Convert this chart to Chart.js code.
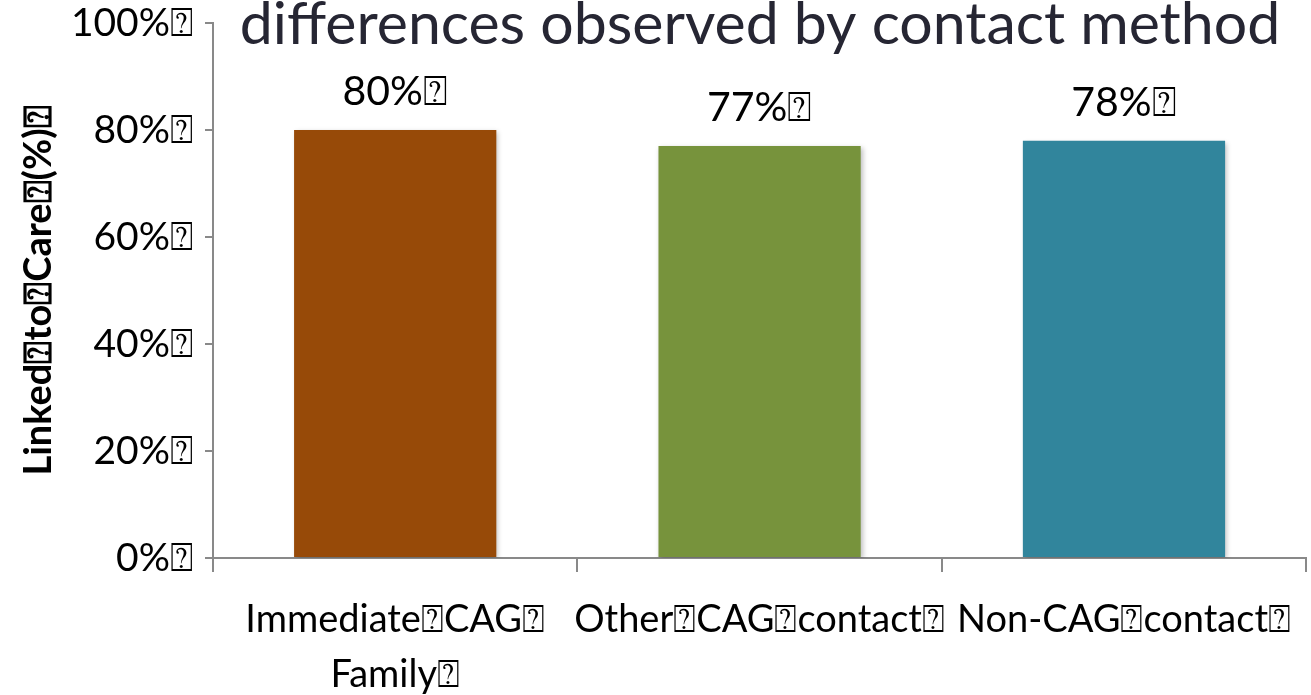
<!DOCTYPE html>
<html>
<head>
<meta charset="utf-8">
<script src="https://cdn.jsdelivr.net/npm/chart.js@4.4.1/dist/chart.umd.min.js"></script>
<style>
  html, body { margin: 0; padding: 0; background: #fff; }
  .chart-container { position: relative; width: 1311px; height: 695px; }
</style>
</head>
<body>
<div class="chart-container">
  <canvas id="contact" width="1311" height="695"></canvas>
</div>
<script>
const BOX = '\u2370';

const titleText = 'differences observed by contact method';
const categories = [
  ['Immediate' + BOX + 'CAG' + BOX, 'Family' + BOX],
  'Other' + BOX + 'CAG' + BOX + 'contact' + BOX,
  'Non-CAG' + BOX + 'contact' + BOX
];
const linkedToCare = [80, 77, 78];
const barColors = ['#974A08', '#77933C', '#31859C'];
const yTicks = [0, 20, 40, 60, 80, 100];
const yTitle = 'Linked' + BOX + 'to' + BOX + 'Care' + BOX + '(%)' + BOX;

const fontFamily = 'Lato, "Open Sans", sans-serif';
const axisGray = '#898989';

const headerPlugin = {
  id: 'header',
  afterDraw(chart) {
    const ctx = chart.ctx;
    ctx.save();
    ctx.font = '59px ' + fontFamily;
    ctx.fillStyle = '#262633';
    ctx.textAlign = 'center';
    ctx.textBaseline = 'alphabetic';
    ctx.fillText(titleText, 760, 44);
    ctx.restore();
  }
};

const valueLabels = {
  id: 'valueLabels',
  afterDatasetsDraw(chart) {
    const ctx = chart.ctx;
    const meta = chart.getDatasetMeta(0);
    ctx.save();
    ctx.font = '41px ' + fontFamily;
    ctx.fillStyle = '#000';
    ctx.textAlign = 'center';
    ctx.textBaseline = 'middle';
    meta.data.forEach((bar, i) => {
      ctx.fillText(linkedToCare[i] + '%' + BOX, bar.x, bar.y - 38);
    });
    ctx.restore();
  }
};

const barShadow = {
  id: 'barShadow',
  beforeDatasetDraw(chart) {
    const ctx = chart.ctx;
    ctx.save();
    ctx.shadowColor = 'rgba(0,0,0,0.25)';
    ctx.shadowBlur = 5;
    ctx.shadowOffsetX = 2;
    ctx.shadowOffsetY = 2;
  },
  afterDatasetDraw(chart) {
    chart.ctx.restore();
  }
};

new Chart(document.getElementById('contact').getContext('2d'), {
  type: 'bar',
  data: {
    labels: categories,
    datasets: [{
      data: linkedToCare,
      backgroundColor: barColors,
      borderWidth: 0,
      barPercentage: 0.555,
      categoryPercentage: 1
    }]
  },
  options: {
    responsive: false,
    animation: false,
    devicePixelRatio: 1,
    layout: { padding: { top: 23, right: -2, left: 0, bottom: 0 } },
    plugins: {
      legend: { display: false },
      tooltip: { enabled: false }
    },
    scales: {
      y: {
        min: 0,
        max: 100,
        afterBuildTicks(scale) {
          scale.ticks = yTicks.map(v => ({ value: v }));
        },
        afterFit(scale) {
          scale.width = 213;
          scale.paddingTop = 0;
          scale.paddingBottom = 0;
        },
        ticks: {
          callback: v => v + '%' + BOX,
          color: '#000',
          padding: 12,
          font: { family: fontFamily, size: 39 }
        },
        grid: {
          drawOnChartArea: false,
          drawTicks: true,
          tickLength: 8,
          color: axisGray,
          lineWidth: 2
        },
        border: { color: axisGray, width: 2 },
        title: {
          display: true,
          text: yTitle,
          color: '#000',
          padding: { top: 16, bottom: 0 },
          font: { family: fontFamily, size: 38, weight: 'bold' }
        }
      },
      x: {
        afterFit(scale) { scale.height = 695 - 558; },
        ticks: {
          color: '#000',
          padding: 20,
          maxRotation: 0,
          autoSkip: false,
          font: { family: fontFamily, size: 38, lineHeight: 1.45 }
        },
        grid: {
          offset: true,
          drawOnChartArea: false,
          drawTicks: true,
          tickLength: 14,
          color: axisGray,
          lineWidth: 2
        },
        border: { color: axisGray, width: 2 }
      }
    }
  },
  plugins: [headerPlugin, valueLabels, barShadow]
});
</script>
</body>
</html>
